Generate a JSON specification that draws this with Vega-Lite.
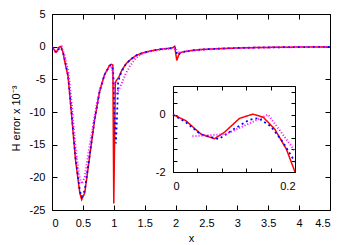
{
  "$schema": "https://vega.github.io/schema/vega-lite/v6.json",
  "width": 278,
  "height": 196,
  "autosize": "none",
  "padding": {"left": 52, "top": 14, "right": 20, "bottom": 35},
  "config": {
    "view": {"stroke": null},
    "font": "Liberation Sans",
    "axis": {
      "domainColor": "#000", "tickColor": "#000", "labelColor": "#000", "titleColor": "#000",
      "labelFont": "Liberation Sans", "titleFont": "Liberation Sans",
      "labelFontSize": 11, "titleFontSize": 11, "titleFontWeight": "normal",
      "grid": false, "tickSize": -5, "domainWidth": 1, "tickWidth": 1
    }
  },
  "datasets": {
    "d": [
      {"s": "s1", "x": 0, "y": 0},
      {"s": "s1", "x": 0.021, "y": -0.21},
      {"s": "s1", "x": 0.046, "y": -0.68},
      {"s": "s1", "x": 0.068, "y": -0.84},
      {"s": "s1", "x": 0.084, "y": -0.62},
      {"s": "s1", "x": 0.109, "y": -0.13},
      {"s": "s1", "x": 0.131, "y": 0.02},
      {"s": "s1", "x": 0.148, "y": -0.09},
      {"s": "s1", "x": 0.167, "y": -0.51},
      {"s": "s1", "x": 0.186, "y": -1.21},
      {"s": "s1", "x": 0.2, "y": -2.0},
      {"s": "s1", "x": 0.26, "y": -4.6},
      {"s": "s1", "x": 0.31, "y": -9.7},
      {"s": "s1", "x": 0.38, "y": -17.3},
      {"s": "s1", "x": 0.45, "y": -22.4},
      {"s": "s1", "x": 0.48, "y": -23.4},
      {"s": "s1", "x": 0.53, "y": -22.4},
      {"s": "s1", "x": 0.61, "y": -16.8},
      {"s": "s1", "x": 0.69, "y": -11.2},
      {"s": "s1", "x": 0.77, "y": -6.9},
      {"s": "s1", "x": 0.85, "y": -4.3},
      {"s": "s1", "x": 0.93, "y": -2.9},
      {"s": "s1", "x": 0.96, "y": -2.7},
      {"s": "s1", "x": 0.985, "y": -2.8},
      {"s": "s1", "x": 1.0, "y": -24.0},
      {"s": "s1", "x": 1.025, "y": -5.6},
      {"s": "s1", "x": 1.04, "y": -5.2},
      {"s": "s1", "x": 1.08, "y": -4.7},
      {"s": "s1", "x": 1.13, "y": -3.6},
      {"s": "s1", "x": 1.2, "y": -2.6},
      {"s": "s1", "x": 1.28, "y": -1.9},
      {"s": "s1", "x": 1.37, "y": -1.3},
      {"s": "s1", "x": 1.47, "y": -0.95},
      {"s": "s1", "x": 1.58, "y": -0.68},
      {"s": "s1", "x": 1.74, "y": -0.42},
      {"s": "s1", "x": 1.85, "y": -0.3},
      {"s": "s1", "x": 1.95, "y": -0.18},
      {"s": "s1", "x": 1.985, "y": 0.05},
      {"s": "s1", "x": 2.02, "y": -2.1},
      {"s": "s1", "x": 2.05, "y": -1.3},
      {"s": "s1", "x": 2.08, "y": -0.9},
      {"s": "s1", "x": 2.15, "y": -0.75},
      {"s": "s1", "x": 2.25, "y": -0.6},
      {"s": "s1", "x": 2.4, "y": -0.45},
      {"s": "s1", "x": 2.6, "y": -0.35},
      {"s": "s1", "x": 2.8, "y": -0.27},
      {"s": "s1", "x": 3.0, "y": -0.2},
      {"s": "s1", "x": 3.3, "y": -0.14},
      {"s": "s1", "x": 3.6, "y": -0.1},
      {"s": "s1", "x": 4.0, "y": -0.06},
      {"s": "s1", "x": 4.5, "y": -0.03},

      {"s": "s2", "x": 0, "y": 0},
      {"s": "s2", "x": 0.02, "y": -0.25},
      {"s": "s2", "x": 0.045, "y": -0.68},
      {"s": "s2", "x": 0.075, "y": -0.85},
      {"s": "s2", "x": 0.1, "y": -0.5},
      {"s": "s2", "x": 0.125, "y": -0.18},
      {"s": "s2", "x": 0.14, "y": -0.12},
      {"s": "s2", "x": 0.16, "y": -0.4},
      {"s": "s2", "x": 0.18, "y": -0.95},
      {"s": "s2", "x": 0.2, "y": -1.65},
      {"s": "s2", "x": 0.26, "y": -4.4},
      {"s": "s2", "x": 0.31, "y": -9.4},
      {"s": "s2", "x": 0.38, "y": -16.9},
      {"s": "s2", "x": 0.45, "y": -22.0},
      {"s": "s2", "x": 0.48, "y": -23.0},
      {"s": "s2", "x": 0.53, "y": -22.0},
      {"s": "s2", "x": 0.61, "y": -16.6},
      {"s": "s2", "x": 0.69, "y": -11.1},
      {"s": "s2", "x": 0.77, "y": -6.9},
      {"s": "s2", "x": 0.85, "y": -4.3},
      {"s": "s2", "x": 0.93, "y": -2.9},
      {"s": "s2", "x": 0.96, "y": -2.8},
      {"s": "s2", "x": 0.99, "y": -3.6},
      {"s": "s2", "x": 1.01, "y": -10.0},
      {"s": "s2", "x": 1.035, "y": -14.8},
      {"s": "s2", "x": 1.055, "y": -10.0},
      {"s": "s2", "x": 1.07, "y": -5.5},
      {"s": "s2", "x": 1.1, "y": -4.4},
      {"s": "s2", "x": 1.15, "y": -3.4},
      {"s": "s2", "x": 1.2, "y": -2.6},
      {"s": "s2", "x": 1.28, "y": -1.9},
      {"s": "s2", "x": 1.37, "y": -1.3},
      {"s": "s2", "x": 1.47, "y": -0.95},
      {"s": "s2", "x": 1.58, "y": -0.68},
      {"s": "s2", "x": 1.74, "y": -0.42},
      {"s": "s2", "x": 1.85, "y": -0.3},
      {"s": "s2", "x": 1.95, "y": -0.2},
      {"s": "s2", "x": 1.985, "y": -0.1},
      {"s": "s2", "x": 2.03, "y": -1.3},
      {"s": "s2", "x": 2.07, "y": -1.0},
      {"s": "s2", "x": 2.12, "y": -0.8},
      {"s": "s2", "x": 2.25, "y": -0.6},
      {"s": "s2", "x": 2.4, "y": -0.45},
      {"s": "s2", "x": 2.6, "y": -0.35},
      {"s": "s2", "x": 2.8, "y": -0.27},
      {"s": "s2", "x": 3.0, "y": -0.2},
      {"s": "s2", "x": 3.3, "y": -0.14},
      {"s": "s2", "x": 3.6, "y": -0.1},
      {"s": "s2", "x": 4.0, "y": -0.06},
      {"s": "s2", "x": 4.5, "y": -0.03},

      {"s": "s3", "x": 0.032, "y": -0.75},
      {"s": "s3", "x": 0.087, "y": -0.68},
      {"s": "s3", "x": 0.156, "y": 0.0},
      {"s": "s3", "x": 0.2, "y": -1.27},
      {"s": "s3", "x": 0.26, "y": -3.6},
      {"s": "s3", "x": 0.31, "y": -8.0},
      {"s": "s3", "x": 0.38, "y": -15.3},
      {"s": "s3", "x": 0.44, "y": -19.8},
      {"s": "s3", "x": 0.48, "y": -21.0},
      {"s": "s3", "x": 0.53, "y": -20.0},
      {"s": "s3", "x": 0.6, "y": -15.6},
      {"s": "s3", "x": 0.69, "y": -10.6},
      {"s": "s3", "x": 0.77, "y": -6.7},
      {"s": "s3", "x": 0.85, "y": -4.3},
      {"s": "s3", "x": 0.94, "y": -2.9},
      {"s": "s3", "x": 0.97, "y": -3.2},
      {"s": "s3", "x": 1.0, "y": -5.5},
      {"s": "s3", "x": 1.03, "y": -7.4},
      {"s": "s3", "x": 1.08, "y": -6.6},
      {"s": "s3", "x": 1.13, "y": -5.6},
      {"s": "s3", "x": 1.19, "y": -4.2},
      {"s": "s3", "x": 1.26, "y": -3.0},
      {"s": "s3", "x": 1.35, "y": -1.8},
      {"s": "s3", "x": 1.45, "y": -1.1},
      {"s": "s3", "x": 1.58, "y": -0.7},
      {"s": "s3", "x": 1.74, "y": -0.45},
      {"s": "s3", "x": 1.95, "y": -0.25},
      {"s": "s3", "x": 2.0, "y": -0.2},
      {"s": "s3", "x": 2.05, "y": -1.0},
      {"s": "s3", "x": 2.1, "y": -0.85},
      {"s": "s3", "x": 2.2, "y": -0.68},
      {"s": "s3", "x": 2.4, "y": -0.48},
      {"s": "s3", "x": 2.6, "y": -0.36},
      {"s": "s3", "x": 2.8, "y": -0.27},
      {"s": "s3", "x": 3.0, "y": -0.2},
      {"s": "s3", "x": 3.3, "y": -0.14},
      {"s": "s3", "x": 3.6, "y": -0.1},
      {"s": "s3", "x": 4.0, "y": -0.06},
      {"s": "s3", "x": 4.5, "y": -0.03}
    ]
  },
  "data": {"name": "d"},
  "resolve": {"scale": {"x": "independent", "y": "independent"}, "axis": {"x": "independent", "y": "independent"}},
  "layer": [
    {
      "mark": {"type": "line", "strokeOpacity": 0},
      "encoding": {
        "x": {"field": "x", "type": "quantitative", "scale": {"domain": [0, 4.5], "nice": false, "zero": false},
              "axis": {"orient": "top", "values": [0,0.5,1,1.5,2,2.5,3,3.5,4,4.5], "labels": false, "title": null}},
        "y": {"field": "y", "type": "quantitative", "scale": {"domain": [-25, 5], "nice": false, "zero": false},
              "axis": {"orient": "right", "values": [-25,-20,-15,-10,-5,0,5], "labels": false, "title": null}},
        "detail": {"field": "s"}
      }
    },
    {
      "mark": {"type": "line", "clip": true},
      "encoding": {
        "x": {"field": "x", "type": "quantitative", "scale": {"domain": [0, 4.5], "nice": false, "zero": false},
              "axis": {"orient": "bottom", "values": [0,0.5,1,1.5,2,2.5,3,3.5,4,4.5], "format": "~g", "title": "x", "labelPadding": 12, "titlePadding": 4}},
        "y": {"field": "y", "type": "quantitative", "scale": {"domain": [-25, 5], "nice": false, "zero": false},
              "axis": {"orient": "left", "values": [-25,-20,-15,-10,-5,0,5], "labelExpr": "replace(datum.label, '\u2212', '-')", "title": "H error x 10\u207b\u00b3", "labelPadding": 12, "titlePadding": 8, "titleY": 104}},
        "color": {"field": "s", "type": "nominal", "scale": {"domain": ["s1","s2","s3"], "range": ["#ff0000","#0000ff","#ff00ff"]}, "legend": null},
        "strokeDash": {"field": "s", "type": "nominal", "scale": {"domain": ["s1","s2","s3"], "range": [[1,0],[2,3],[1,2]]}, "legend": null},
        "strokeWidth": {"field": "s", "type": "nominal", "scale": {"domain": ["s1","s2","s3"], "range": [1.5,2,1.2]}, "legend": null}
      }
    },
    {
      "transform": [{"filter": "datum.x <= 0.2001"}],
      "mark": {"type": "line", "strokeOpacity": 0},
      "encoding": {
        "x": {"field": "x", "type": "quantitative", "scale": {"domain": [0, 0.2], "range": [121, 243], "nice": false, "zero": false},
              "axis": {"orient": "top", "offset": -72, "values": [0,0.04,0.08,0.12,0.16,0.2], "labels": false, "title": null, "tickSize": -4}},
        "y": {"field": "y", "type": "quantitative", "scale": {"domain": [-2, 1], "range": [158, 72], "nice": false, "zero": false},
              "axis": {"orient": "right", "offset": -35, "values": [-2,-1.6,-1.2,-0.8,-0.4,0,0.4,0.8], "labels": false, "title": null, "tickSize": -4}},
        "detail": {"field": "s"}
      }
    },
    {
      "transform": [{"filter": "datum.x <= 0.2001"}],
      "mark": {"type": "line"},
      "encoding": {
        "x": {"field": "x", "type": "quantitative", "scale": {"domain": [0, 0.2], "range": [121, 243], "nice": false, "zero": false},
              "axis": {"orient": "bottom", "offset": -38, "values": [0,0.04,0.08,0.12,0.16,0.2], "labelExpr": "datum.value == 0 || datum.value == 0.2 ? datum.label : ''", "format": "~g", "title": null, "tickSize": -4, "labelPadding": 12}},
        "y": {"field": "y", "type": "quantitative", "scale": {"domain": [-2, 1], "range": [158, 72], "nice": false, "zero": false},
              "axis": {"orient": "left", "offset": -121, "values": [-2,-1.6,-1.2,-0.8,-0.4,0,0.4,0.8], "labelExpr": "datum.value == 0 || datum.value == -2 ? replace(datum.label, '\u2212', '-') : ''", "format": "~g", "title": null, "tickSize": -4, "labelPadding": 12}},
        "color": {"field": "s", "type": "nominal", "scale": {"domain": ["s1","s2","s3"], "range": ["#ff0000","#0000ff","#ff00ff"]}, "legend": null},
        "strokeDash": {"field": "s", "type": "nominal", "scale": {"domain": ["s1","s2","s3"], "range": [[1,0],[2,3],[1,2]]}, "legend": null},
        "strokeWidth": {"field": "s", "type": "nominal", "scale": {"domain": ["s1","s2","s3"], "range": [1.5,2,1.2]}, "legend": null}
      }
    }
  ]
}
